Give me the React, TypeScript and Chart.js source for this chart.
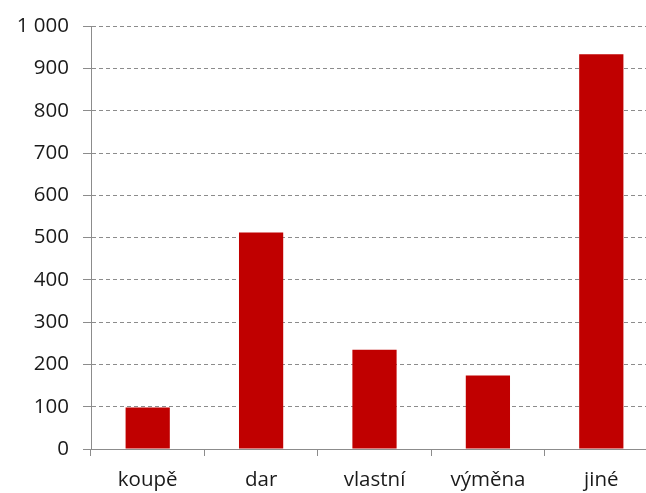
import React, { useEffect, useRef } from "react";
import { Chart, registerables } from "chart.js";

Chart.register(...registerables);

const categories = ["koupě", "dar", "vlastní", "výměna", "jiné"];
const values = [98, 512, 235, 174, 934];
const yMin = 0;
const yMax = 1000;
const yStep = 100;

const GRAY = "#8c8c8c";
const TEXT = "#1a1a1a";
const FONT = "'Open Sans'";

export default function App() {
  const ref = useRef<HTMLCanvasElement>(null);

  useEffect(() => {
    const chart = new Chart(ref.current!, {
      type: "bar",
      data: {
        labels: categories,
        datasets: [
          {
            data: values,
            backgroundColor: "#C00000",
            borderWidth: 0,
            barPercentage: 0.39,
            categoryPercentage: 1.0,
          },
        ],
      },
      options: {
        responsive: false,
        animation: false,
        devicePixelRatio: 1,
        layout: { padding: { top: 26, right: 4, bottom: 0, left: 0 } },
        plugins: {
          legend: { display: false },
          tooltip: { enabled: false },
          title: { display: false },
        },
        scales: {
          x: {
            offset: true,
            afterFit: (scale: any) => {
              scale.height = 44;
            },
            grid: {
              display: true,
              drawOnChartArea: false,
              drawTicks: true,
              tickLength: 7,
              color: GRAY,
              offset: true,
            },
            border: { display: true, color: GRAY, width: 1 },
            ticks: {
              color: TEXT,
              font: { family: FONT, size: 20.5 },
              padding: 12,
              maxRotation: 0,
              autoSkip: false,
            },
          },
          y: {
            min: yMin,
            max: yMax,
            afterFit: (scale: any) => {
              scale.width = 91;
            },
            grid: {
              color: GRAY,
              tickLength: 8,
              tickColor: GRAY,
              tickBorderDash: [],
              lineWidth: 1,
            },
            border: { display: true, color: GRAY, width: 1, dash: [4, 3] },
            ticks: {
              stepSize: yStep,
              color: TEXT,
              font: { family: FONT, size: 20.5 },
              padding: 14,
              callback: (v: any) =>
                String(v).replace(/\B(?=(\d{3})+(?!\d))/g, " "),
            },
          },
        },
      },
    });
    return () => chart.destroy();
  }, []);

  return (
    <div
      style={{
        position: "fixed",
        left: 0,
        top: 0,
        width: 646,
        height: 493,
        overflow: "hidden",
        background: "#fff",
      }}
    >
      <canvas ref={ref} width={662} height={493} style={{ display: "block" }} />
    </div>
  );
}
